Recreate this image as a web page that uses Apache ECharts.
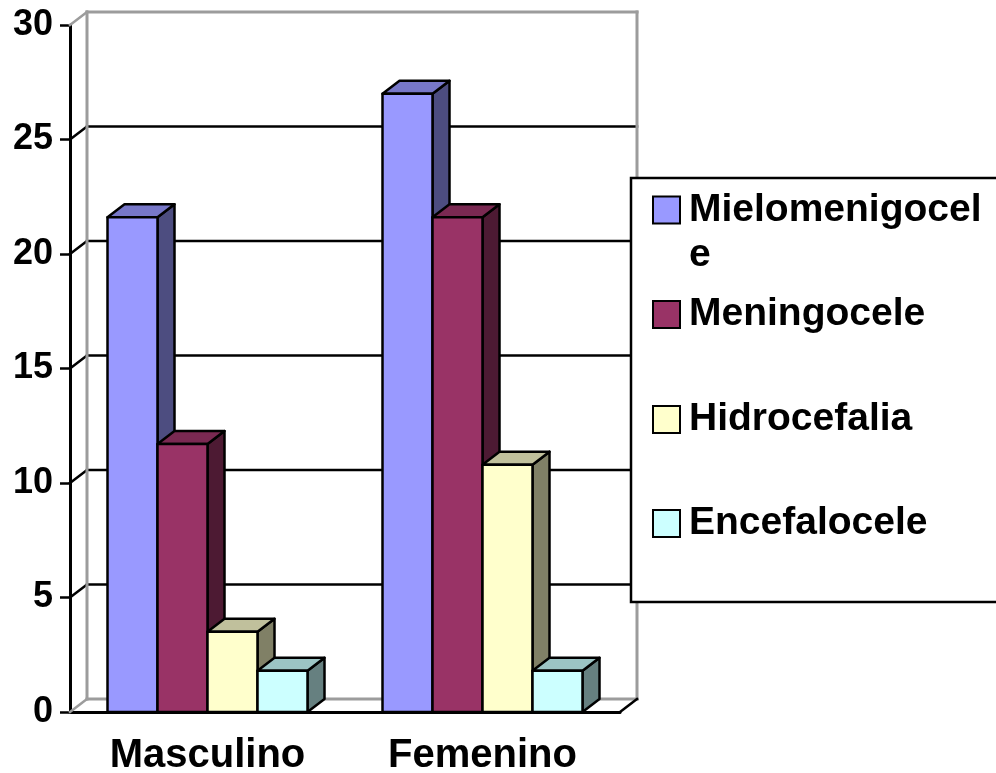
<!DOCTYPE html>
<html>
<head>
<meta charset="utf-8">
<script src="https://cdn.jsdelivr.net/npm/echarts@6/dist/echarts.min.js"></script>
<style>
  html, body { margin: 0; padding: 0; background: #fff; }
  #chart { width: 996px; height: 773px; }
</style>
</head>
<body>
<div id="chart"></div>
<script>
// Categories and series values
const categories = ['Masculino', 'Femenino'];
const mielomenigocele = [21.6, 27.0];
const meningocele = [11.7, 21.6];
const hidrocefalia = [3.5, 10.8];
const encefalocele = [1.8, 1.8];
const yTicks = [0, 5, 10, 15, 20, 25, 30];

const FONT = '"Liberation Sans", Arial, sans-serif';
const DX = 17, DY = -13;      // depth offset of the 3D box
const BAR_W = 50;             // width of one column
const GRAY = '#9c9c9c';

const seriesDefs = [
  { name: 'Mielomenigocele', data: mielomenigocele, front: '#9999FF', top: '#7777C8', side: '#4D4D80' },
  { name: 'Meningocele',     data: meningocele,     front: '#993366', top: '#7A2952', side: '#4D1A33' },
  { name: 'Hidrocefalia',    data: hidrocefalia,    front: '#FFFFCC', top: '#C0C09C', side: '#808066' },
  { name: 'Encefalocele',    data: encefalocele,    front: '#CCFFFF', top: '#9CC4C4', side: '#668080' }
];

// Back wall, floor edge and gridlines of the 3D frame
function wallRenderer(params, api) {
  const cs = params.coordSys;
  const x0 = cs.x, x1 = cs.x + cs.width;
  const children = [];
  const line = (a, b, c, d, color, w) => children.push({
    type: 'line', shape: { x1: a, y1: b, x2: c, y2: d },
    style: { stroke: color, lineWidth: w, lineCap: 'square' }
  });
  const yMin = api.coord([0, yTicks[0]])[1];
  const yMax = api.coord([0, yTicks[yTicks.length - 1]])[1];
  yTicks.forEach((t, i) => {
    const y = api.coord([0, t])[1];
    const edge = (i === 0 || i === yTicks.length - 1);
    const c = edge ? GRAY : '#000';
    line(x0, y, x0 + DX, y + DY, c, 2.5);
    line(x0 + DX, y + DY, x1 + DX, y + DY, c, edge ? 3 : 2.5);
  });
  line(x0 + DX, yMax + DY, x0 + DX, yMin + DY, GRAY, 3);
  line(x1 + DX, yMax + DY, x1 + DX, yMin + DY, GRAY, 3);
  line(x1, yMin, x1 + DX, yMin + DY, '#000', 2.5);
  return { type: 'group', children };
}

// One 3D column: front face, top face and right side face
function barRenderer(slot, def) {
  return function (params, api) {
    const cat = api.value(0), val = api.value(1);
    const base = api.coord([cat, 0]);
    const head = api.coord([cat, val]);
    const x = base[0] - 2 * BAR_W + slot * BAR_W;
    const yb = base[1], yt = head[1];
    const stroke = { stroke: '#000', lineWidth: 2.5, lineJoin: 'round' };
    return {
      type: 'group',
      children: [
        { type: 'polygon', shape: { points: [[x + BAR_W, yt], [x + BAR_W + DX, yt + DY], [x + BAR_W + DX, yb + DY], [x + BAR_W, yb]] },
          style: Object.assign({ fill: def.side }, stroke) },
        { type: 'polygon', shape: { points: [[x, yt], [x + DX, yt + DY], [x + BAR_W + DX, yt + DY], [x + BAR_W, yt]] },
          style: Object.assign({ fill: def.top }, stroke) },
        { type: 'rect', shape: { x: x, y: yt, width: BAR_W, height: yb - yt },
          style: Object.assign({ fill: def.front }, stroke) }
      ]
    };
  };
}

const series = [{
  type: 'custom', name: '_wall', silent: true, z: 1,
  data: [[0, 0]], encode: { x: 0, y: 1 },
  renderItem: wallRenderer
}];
seriesDefs.forEach((d, i) => {
  series.push({
    type: 'custom', name: d.name, z: 2,
    itemStyle: { color: d.front, borderColor: '#000', borderWidth: 2 },
    encode: { x: 0, y: 1 },
    data: d.data.map((v, j) => [j, v]),
    renderItem: barRenderer(i, d)
  });
});

// Legend entries sit in evenly spaced slots; the long first name wraps onto a second line
// (an empty leading line keeps its first line level with the swatch)
const legendCenters = [210, 314.5, 419.5, 523.5];
const LH = 45;
const legends = seriesDefs.map((d, i) => ({
  data: [d.name],
  orient: 'vertical',
  left: 652,
  top: i === 0 ? legendCenters[i] - 1.5 * LH : legendCenters[i] - LH / 2,
  padding: 0,
  icon: 'rect',
  itemWidth: 27,
  itemHeight: 27,
  itemStyle: { borderColor: '#000', borderWidth: 2 },
  selectedMode: false,
  z: 5,
  formatter: i === 0 ? '\nMielomenigocel\ne' : '{name}',
  textStyle: {
    fontFamily: FONT, fontWeight: 'bold', fontSize: 39, color: '#000',
    lineHeight: LH, padding: [0, 0, 0, 4]
  }
}));

const chart = echarts.init(document.getElementById('chart'));
chart.setOption({
  animation: false,
  backgroundColor: '#fff',
  grid: { left: 70, right: 376, top: 25, bottom: 61, containLabel: false, outerBoundsMode: 'none' },
  xAxis: {
    type: 'category',
    data: categories,
    axisLine: { lineStyle: { color: '#000', width: 3 } },
    axisTick: { length: 10, lineStyle: { color: '#000', width: 2.5 } },
    axisLabel: { fontFamily: FONT, fontWeight: 'bold', fontSize: 40, color: '#000', margin: 24 },
    splitLine: { show: false }
  },
  yAxis: {
    type: 'value', min: 0, max: 30, interval: 5,
    axisLine: { show: true, lineStyle: { color: '#000', width: 3 } },
    axisTick: { show: true, length: 10, lineStyle: { color: '#000', width: 2.5 } },
    axisLabel: { fontFamily: FONT, fontWeight: 'bold', fontSize: 36, color: '#000', margin: 17 },
    splitLine: { show: false }
  },
  graphic: [{
    type: 'rect', z: 3,
    shape: { x: 631, y: 178, width: 420, height: 424 },
    style: { fill: '#fff', stroke: '#000', lineWidth: 2.5 }
  }],
  legend: legends,
  series: series
});
</script>
</body>
</html>
